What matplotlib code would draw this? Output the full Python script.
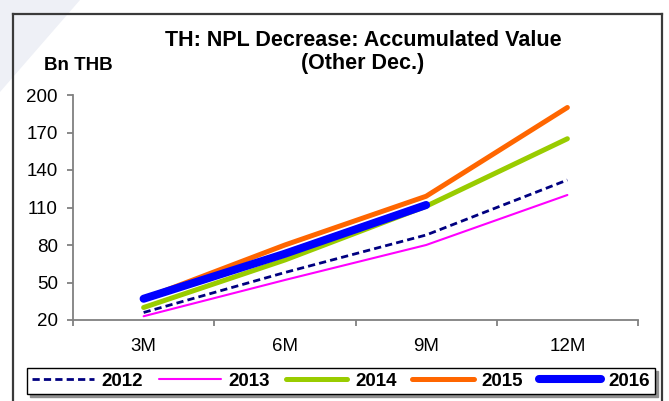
import matplotlib
matplotlib.use("Agg")
import matplotlib.pyplot as plt
from matplotlib.lines import Line2D
from matplotlib.patches import Polygon

plt.rcParams["font.family"] = ["Liberation Sans", "DejaVu Sans"]

# Data (Bn THB, accumulated)
periods = ["3M", "6M", "9M", "12M"]
years = ["2012", "2013", "2014", "2015", "2016"]
v2012 = [26, 58, 88, 132]
v2013 = [23, 52, 80, 120]
v2014 = [30, 68, 111, 165]
v2015 = [37, 80, 119, 190]
v2016 = [37, 73, 112]
y_ticks = [20, 50, 80, 110, 140, 170, 200]

W, H = 669, 401
fig = plt.figure(figsize=(W / 100, H / 100), dpi=100)
fig.patch.set_facecolor("white")

# faint slide-background shape in the corner
fig.patches.append(Polygon([(0, 1), (80 / W, 1), (0, 1 - 92 / H)], closed=True,
                           transform=fig.transFigure, facecolor="#eef0f6",
                           edgecolor="none", zorder=0))

# outer chart frame (open at the bottom)
frame_kw = dict(transform=fig.transFigure, color="#3a3a3a", lw=1.6, zorder=1)
x0, x1, ytop = 13 / W, 662 / W, 1 - 14 / H
fig.add_artist(Line2D([x0, x1], [ytop, ytop], **frame_kw))
fig.add_artist(Line2D([x0, x0], [ytop, -0.05], **frame_kw))
fig.add_artist(Line2D([x1, x1], [ytop, -0.05], **frame_kw))

ax = fig.add_axes([73 / W, 1 - 320 / H, (638 - 73) / W, (320 - 95) / H])
ax.set_facecolor("white")

x = list(range(len(periods)))
styles = [
    (v2012, dict(color="#000080", lw=2.0, dashes=(2.6, 1.5))),
    (v2013, dict(color="#FF00FF", lw=1.5)),
    (v2014, dict(color="#99CC00", lw=3.6)),
    (v2015, dict(color="#FF6600", lw=3.6)),
    (v2016, dict(color="#0000FF", lw=5.8)),
]
handles = []
for (vals, kw), name in zip(styles, years):
    ln, = ax.plot(x[:len(vals)], vals, solid_capstyle="round",
                  solid_joinstyle="round", label=name, **kw)
    handles.append(ln)

ax.set_xlim(-0.5, len(periods) - 0.5)
ax.set_ylim(y_ticks[0], y_ticks[-1])
ax.set_yticks(y_ticks)
ax.set_xticks(x)
ax.set_xticklabels(periods)
ax.set_xticks([i - 0.5 for i in range(len(periods) + 1)], minor=True)

for s in ("top", "right"):
    ax.spines[s].set_visible(False)
for s in ("left", "bottom"):
    ax.spines[s].set_color("#808080")
    ax.spines[s].set_linewidth(1.3)

ax.tick_params(axis="x", which="major", length=0, pad=13, labelsize=13.5)
ax.tick_params(axis="x", which="minor", length=4, width=1.3, color="#808080")
ax.tick_params(axis="y", length=4, width=1.3, color="#808080", pad=7,
               labelsize=13.5)

fig.text(363 / W, 1 - 40 / H, "TH: NPL Decrease: Accumulated Value",
         ha="center", va="center", fontsize=15.5, fontweight="bold")
fig.text(363 / W, 1 - 64 / H, "(Other Dec.)",
         ha="center", va="center", fontsize=15.5, fontweight="bold")
fig.text(78 / W, 1 - 66 / H, "Bn THB", ha="center", va="center",
         fontsize=13.5, fontweight="bold")

leg = fig.legend(handles=handles, labels=years, loc="center",
                 bbox_to_anchor=(341 / W, 1 - 381 / H), ncol=5,
                 prop=dict(size=13.5, weight="bold"), handlelength=3.3,
                 handletextpad=0.4, columnspacing=0.85, borderpad=0.25,
                 borderaxespad=0, fancybox=False, framealpha=1,
                 shadow=dict(color="#909090", alpha=1))
leg.get_frame().set_edgecolor("black")
leg.get_frame().set_linewidth(1.0)

fig.savefig("out.png", dpi=100)
